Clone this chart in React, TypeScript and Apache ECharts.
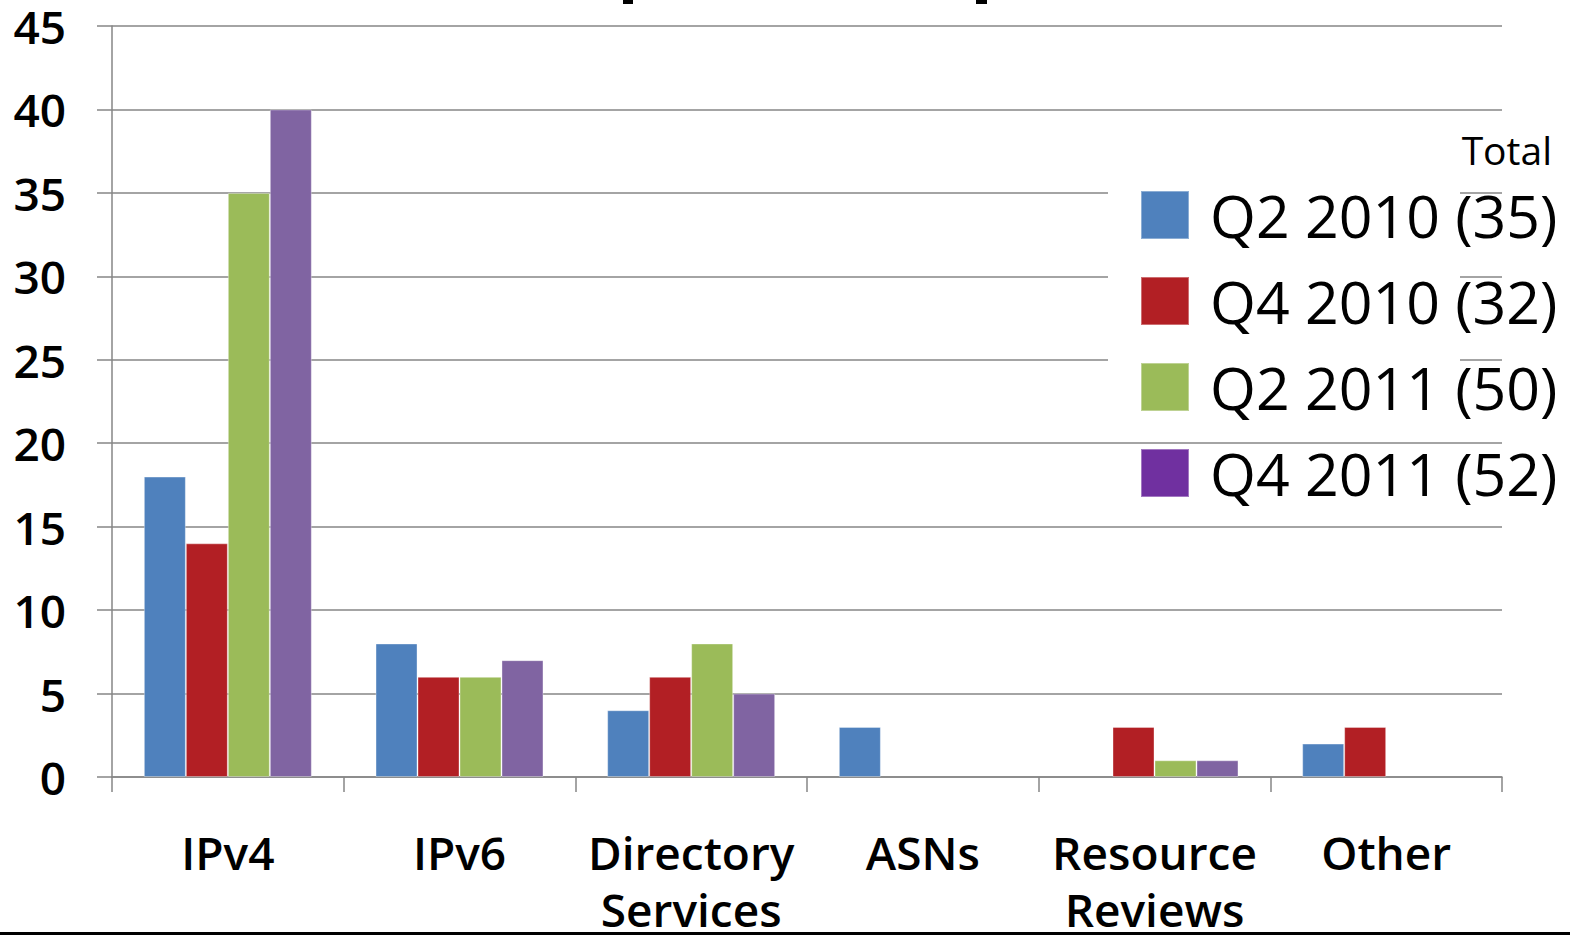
import React, { useEffect, useRef } from "react";
import * as echarts from "echarts";

const categories = ["IPv4", "IPv6", "Directory\nServices", "ASNs", "Resource\nReviews", "Other"];
const seriesNames = ["Q2 2010 (35)", "Q4 2010 (32)", "Q2 2011 (50)", "Q4 2011 (52)"];
const q2_2010 = [18, 8, 4, 3, 0, 2];
const q4_2010 = [14, 6, 6, 0, 3, 3];
const q2_2011 = [35, 6, 8, 0, 1, 0];
const q4_2011 = [40, 7, 5, 0, 1, 0];
const barColors = ["#4F81BD", "#B21F24", "#9BBB59", "#8064A2"];
const legendColors = ["#4F81BD", "#B21F24", "#9BBB59", "#7030A0"];

const GRAY = "#868686";
const FONT = "'Open Sans', 'Noto Sans', sans-serif";

export default function App() {
  const ref = useRef<HTMLDivElement>(null);
  useEffect(() => {
    const chart = echarts.init(ref.current!, null, { renderer: "svg" });
    const allData = [q2_2010, q4_2010, q2_2011, q4_2011];
    chart.setOption({
      animation: false,
      backgroundColor: "#ffffff",
      grid: { left: 112, right: 68, top: 26, bottom: 160, containLabel: false },
      xAxis: {
        type: "category",
        data: categories,
        axisLine: { show: true, lineStyle: { color: GRAY, width: 1.5 } },
        axisTick: { show: true, length: 15, alignWithLabel: false, lineStyle: { color: GRAY, width: 1.5 } },
        axisLabel: {
          interval: 0,
          margin: 46,
          color: "#000",
          fontFamily: FONT,
          fontSize: 46,
          fontWeight: 600,
          lineHeight: 57,
        },
        splitLine: { show: false },
      },
      yAxis: {
        type: "value",
        min: 0,
        max: 45,
        interval: 5,
        axisLine: { show: true, lineStyle: { color: GRAY, width: 1.5 } },
        axisTick: { show: true, length: 15, inside: false, lineStyle: { color: GRAY, width: 1.5 } },
        axisLabel: {
          margin: 46,
          color: "#000",
          fontFamily: FONT,
          fontSize: 46,
          fontWeight: 600,
        },
        splitLine: { show: true, lineStyle: { color: GRAY, width: 1.5 } },
      },
      legend: {
        orient: "vertical",
        left: 1135,
        top: 175,
        itemWidth: 48,
        itemHeight: 48,
        itemGap: 16,
        icon: "rect",
        data: seriesNames.map((n, i) => ({ name: n, itemStyle: { color: legendColors[i] } })),
        textStyle: {
          color: "#000",
          fontFamily: FONT,
          fontSize: 59,
          fontWeight: 500,
          lineHeight: 70,
          padding: [0, 0, 0, 16],
        },
      },
      graphic: [
        {
          type: "rect",
          z: 1,
          shape: { x: 1108, y: 178, width: 352, height: 258 },
          style: { fill: "#ffffff" },
        },
        {
          type: "text",
          z: 5,
          x: 1552,
          y: 149,
          style: {
            text: "Total",
            fill: "#000",
            fontFamily: FONT,
            fontSize: 39,
            textAlign: "right",
            textVerticalAlign: "middle",
          },
        },
        { type: "rect", z: 5, shape: { x: 623, y: 0, width: 10, height: 4 }, style: { fill: "#000" } },
        { type: "rect", z: 5, shape: { x: 976, y: 0, width: 11, height: 4 }, style: { fill: "#000" } },
        { type: "rect", z: 5, shape: { x: 0, y: 932, width: 1570, height: 3 }, style: { fill: "#000" } },
      ],
      series: seriesNames.map((n, i) => ({
        name: n,
        type: "bar",
        data: allData[i].map((v) => (v === 0 ? null : v)),
        barGap: "0%",
        barCategoryGap: "27.5%",
        itemStyle: { color: barColors[i], borderColor: "rgba(255,255,255,0.35)", borderWidth: 1 },
      })),
    });
    return () => chart.dispose();
  }, []);
  return (
    <div
      ref={ref}
      style={{ position: "fixed", left: 0, top: 0, width: 1570, height: 937, background: "#fff" }}
    />
  );
}
